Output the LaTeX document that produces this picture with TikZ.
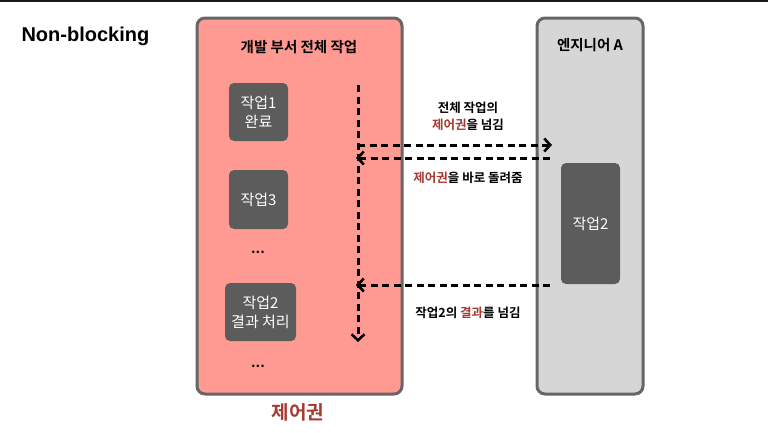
\documentclass[tikz,border=0pt]{standalone}
\usepackage{fontspec}
\setmainfont{Noto Sans CJK KR}[BoldFont={Noto Sans CJK KR Bold}]
\newfontfamily\latinbold{Liberation Sans}[BoldFont={Liberation Sans Bold}]
\usetikzlibrary{arrows.meta}
\definecolor{salmon}{HTML}{FF9A92}
\definecolor{lgray}{HTML}{D6D6D6}
\definecolor{frame}{HTML}{666666}
\definecolor{dbox}{HTML}{5C5C5C}
\definecolor{redtxt}{HTML}{A63A32}
\begin{document}
\begin{tikzpicture}[x=1pt,y=-1pt,
  panel/.style={draw=frame, line width=3pt, rounded corners=8pt},
  taskbox/.style={fill=dbox, rounded corners=5pt, text=white, align=center, font=\fontsize{15}{19}\selectfont},
  flow/.style={line width=3pt, dash pattern=on 7pt off 4.5pt, -{Straight Barb[length=6pt,width=13pt,line width=2.6pt]}},
  lbl/.style={font=\bfseries\fontsize{12.5}{17}\selectfont, align=center},
  hl/.style={text=redtxt}
]
\useasboundingbox (0,0) rectangle (768,432);
\fill[white] (0,0) rectangle (768,432);
\fill[black!90] (0,0) rectangle (768,2);
\node[anchor=west, font=\latinbold\bfseries\fontsize{20}{23}\selectfont] (title) at (18,36) {Non-blocking};
% panels
\draw[panel, fill=salmon] (197,18) rectangle (402,394);
\draw[panel, fill=lgray] (537,18) rectangle (643,394);
\node[font=\bfseries\fontsize{14.5}{18}\selectfont] (dept) at (299,47) {개발 부서 전체 작업};
\node[font=\bfseries\fontsize{14.5}{18}\selectfont] (eng) at (590,45) {엔지니어 A};
% tasks
\node[taskbox, minimum width=59pt, minimum height=58pt] (t1) at (258.5,112) {작업1\\완료};
\node[taskbox, minimum width=59pt, minimum height=59pt] (t3) at (258.5,199.5) {작업3};
\node[font=\bfseries\fontsize{14}{16}\selectfont] (d1) at (258,252) {...};
\node[taskbox, minimum width=71pt, minimum height=58pt] (t2r) at (260.5,312) {작업2\\결과 처리};
\node[font=\bfseries\fontsize{14}{16}\selectfont] (d2) at (258,366) {...};
\node[taskbox, minimum width=59pt, minimum height=121pt] (t2) at (590.5,223.5) {작업2};
% flow coordinates
\coordinate (vtop) at (358,85);
\coordinate (vbot) at (358,342);
\coordinate (a1s) at (358,145);
\coordinate (a1e) at (552,145);
\coordinate (a2s) at (550,158);
\coordinate (a2e) at (356,158);
\coordinate (a3s) at (550,285);
\coordinate (a3e) at (356,285);
\draw[flow] (vtop) -- (vbot);
\draw[flow] (a1s) -- (a1e);
\draw[flow] (a2s) -- (a2e);
\draw[flow] (a3s) -- (a3e);
% labels
\node[lbl] (l1) at (468,116.5) {전체 작업의\\{\color{redtxt}제어권}을 넘김};
\node[lbl] (l2) at (468,178) {{\color{redtxt}제어권}을 바로 돌려줌};
\node[lbl] (l3) at (468,313) {작업2의 {\color{redtxt}결과}를 넘김};
\node[font=\bfseries\fontsize{19}{22}\selectfont, text=redtxt] (ctl) at (298,412) {제어권};
\end{tikzpicture}
\end{document}
